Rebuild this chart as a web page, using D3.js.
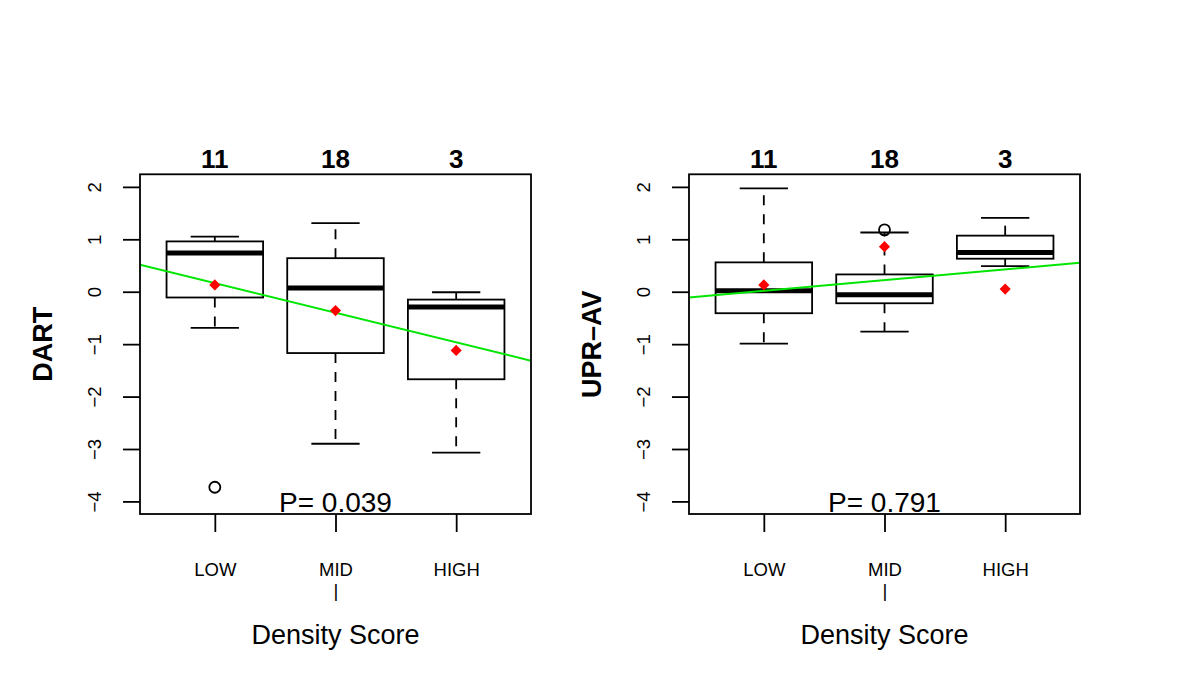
<!DOCTYPE html>
<html>
<head>
<meta charset="utf-8">
<script src="https://cdn.jsdelivr.net/npm/d3@7"></script>
<style>
  html, body { margin: 0; padding: 0; background: #fff; }
  svg { display: block; }
  text { font-family: "Liberation Sans", Arial, Helvetica, sans-serif; fill: #000; }
</style>
</head>
<body>
<svg id="chart" width="1200" height="686"></svg>
<script>
// ---------- data ----------
const categories = ["LOW", "MID", "HIGH"];
const groupCounts = [11, 18, 3];
const yTicks = [-4, -3, -2, -1, 0, 1, 2];
const xLabel = "Density Score";

// Panel 1: DART
const dartWhiskerHigh = [1.05, 1.31, -0.01];
const dartQ3          = [0.96, 0.64, -0.15];
const dartMedian      = [0.74, 0.07, -0.29];
const dartQ1          = [-0.11, -1.17, -1.67];
const dartWhiskerLow  = [-0.69, -2.90, -3.07];
const dartMean        = [0.13, -0.36, -1.12];
const dartOutliers    = [[-3.73], [], []];
const dartFit         = [0.730, -0.565];   // intercept, slope
const dartP           = "P= 0.039";

// Panel 2: UPR-AV
const uprWhiskerHigh = [1.97, 1.13, 1.41];
const uprQ3          = [0.56, 0.33, 1.07];
const uprMedian      = [0.02, -0.06, 0.75];
const uprQ1          = [-0.41, -0.22, 0.63];
const uprWhiskerLow  = [-0.99, -0.76, 0.49];
const uprMean        = [0.13, 0.86, 0.05];
const uprOutliers    = [[], [1.18], []];
const uprFit         = [-0.187, 0.204];
const uprP           = "P= 0.791";

const panels = [
  { label: "DART", hi: dartWhiskerHigh, q3: dartQ3, med: dartMedian, q1: dartQ1, lo: dartWhiskerLow,
    mean: dartMean, out: dartOutliers, fit: dartFit, p: dartP, left: 140, right: 531 },
  { label: "UPR\u2013AV", hi: uprWhiskerHigh, q3: uprQ3, med: uprMedian, q1: uprQ1, lo: uprWhiskerLow,
    mean: uprMean, out: uprOutliers, fit: uprFit, p: uprP, left: 689, right: 1080 }
];

// ---------- drawing ----------
const svg = d3.select("#chart");
const plotTop = 174.3, plotBottom = 514;
const boxW = 0.8, capW = 0.4;
const lw = 1.8;

panels.forEach(pn => {
  const g = svg.append("g");
  const x = d3.scaleLinear().domain([0.38, 3.62]).range([pn.left, pn.right]);
  const y = d3.scaleLinear().domain([-4.24, 2.24]).range([plotBottom, plotTop]);
  const idx = categories.map((c, i) => i);

  const clipId = "clip" + pn.left;
  svg.append("clipPath").attr("id", clipId).append("rect")
    .attr("x", pn.left).attr("y", plotTop).attr("width", pn.right - pn.left).attr("height", plotBottom - plotTop);

  // whiskers (dashed)
  g.append("g").selectAll("line").data(idx).join("line")
    .attr("x1", i => x(i + 1)).attr("x2", i => x(i + 1))
    .attr("y1", i => y(pn.q3[i])).attr("y2", i => y(pn.hi[i]))
    .attr("stroke", "#000").attr("stroke-width", lw).attr("stroke-dasharray", "10,9");
  g.append("g").selectAll("line").data(idx).join("line")
    .attr("x1", i => x(i + 1)).attr("x2", i => x(i + 1))
    .attr("y1", i => y(pn.q1[i])).attr("y2", i => y(pn.lo[i]))
    .attr("stroke", "#000").attr("stroke-width", lw).attr("stroke-dasharray", "10,9");
  // caps
  [pn.hi, pn.lo].forEach(arr => {
    g.append("g").selectAll("line").data(idx).join("line")
      .attr("x1", i => x(i + 1 - capW / 2)).attr("x2", i => x(i + 1 + capW / 2))
      .attr("y1", i => y(arr[i])).attr("y2", i => y(arr[i]))
      .attr("stroke", "#000").attr("stroke-width", lw);
  });
  // boxes
  g.append("g").selectAll("rect").data(idx).join("rect")
    .attr("x", i => x(i + 1 - boxW / 2)).attr("width", i => x(i + 1 + boxW / 2) - x(i + 1 - boxW / 2))
    .attr("y", i => y(pn.q3[i])).attr("height", i => y(pn.q1[i]) - y(pn.q3[i]))
    .attr("fill", "#fff").attr("stroke", "#000").attr("stroke-width", lw);
  // medians
  g.append("g").selectAll("line").data(idx).join("line")
    .attr("x1", i => x(i + 1 - boxW / 2)).attr("x2", i => x(i + 1 + boxW / 2))
    .attr("y1", i => y(pn.med[i])).attr("y2", i => y(pn.med[i]))
    .attr("stroke", "#000").attr("stroke-width", 5);
  // outliers
  const outs = [];
  pn.out.forEach((arr, i) => arr.forEach(v => outs.push({ i, v })));
  g.append("g").selectAll("circle").data(outs).join("circle")
    .attr("cx", d => x(d.i + 1)).attr("cy", d => y(d.v)).attr("r", 5.5)
    .attr("fill", "none").attr("stroke", "#000").attr("stroke-width", lw);

  // regression line (clipped)
  g.append("line")
    .attr("clip-path", `url(#${clipId})`)
    .attr("x1", x(0.38)).attr("y1", y(pn.fit[0] + pn.fit[1] * 0.38))
    .attr("x2", x(3.62)).attr("y2", y(pn.fit[0] + pn.fit[1] * 3.62))
    .attr("stroke", "#00e600").attr("stroke-width", 2);

  // means (red diamonds)
  const diamond = d3.symbol().type(d3.symbolSquare).size(62);
  g.append("g").selectAll("path").data(idx).join("path")
    .attr("d", diamond)
    .attr("transform", i => `translate(${x(i + 1)},${y(pn.mean[i])}) rotate(45)`)
    .attr("fill", "#ff0000");

  // plot box
  g.append("rect").attr("x", pn.left).attr("y", plotTop)
    .attr("width", pn.right - pn.left).attr("height", plotBottom - plotTop)
    .attr("fill", "none").attr("stroke", "#000").attr("stroke-width", lw);

  // y axis
  const ya = g.append("g").attr("transform", `translate(${pn.left},0)`)
    .call(d3.axisLeft(y).tickValues(yTicks).tickSize(17).tickFormat(d => d < 0 ? "\u2212" + Math.abs(d) : String(d)));
  ya.select(".domain").remove();
  ya.selectAll(".tick line").attr("stroke", "#000").attr("stroke-width", lw);
  ya.selectAll(".tick text")
    .attr("transform", "rotate(-90)").attr("x", 0).attr("y", -39.5).attr("dy", null)
    .attr("text-anchor", "middle").style("font-size", "18.5px");

  // x axis
  const xa = g.append("g").attr("transform", `translate(0,${plotBottom})`)
    .call(d3.axisBottom(x).tickValues([1, 2, 3]).tickSize(18).tickFormat(d => categories[d - 1]));
  xa.select(".domain").remove();
  xa.selectAll(".tick line").attr("stroke", "#000").attr("stroke-width", lw);
  xa.selectAll(".tick text").attr("y", 61.7).attr("dy", null).style("font-size", "18.5px");
  xa.selectAll(".tick").filter(d => d === 2).append("text")
    .attr("y", 83).attr("text-anchor", "middle").style("font-size", "18.5px").text("|");

  // counts
  g.append("g").selectAll("text").data(idx).join("text")
    .attr("x", i => x(i + 1)).attr("y", 168.3).attr("text-anchor", "middle")
    .style("font-size", "26px").style("font-weight", "bold").text(i => groupCounts[i]);

  // P value
  g.append("text").attr("x", x(2)).attr("y", 511.5).attr("text-anchor", "middle")
    .style("font-size", "28px").text(pn.p);

  // x label
  g.append("text").attr("x", (pn.left + pn.right) / 2).attr("y", 644.3).attr("text-anchor", "middle")
    .style("font-size", "27px").text(xLabel);

  // y label
  g.append("text").attr("transform", `translate(${pn.left - 88.5},${(plotTop + plotBottom) / 2}) rotate(-90)`)
    .attr("text-anchor", "middle").style("font-size", "27px").style("font-weight", "bold").text(pn.label);
});
</script>
</body>
</html>
